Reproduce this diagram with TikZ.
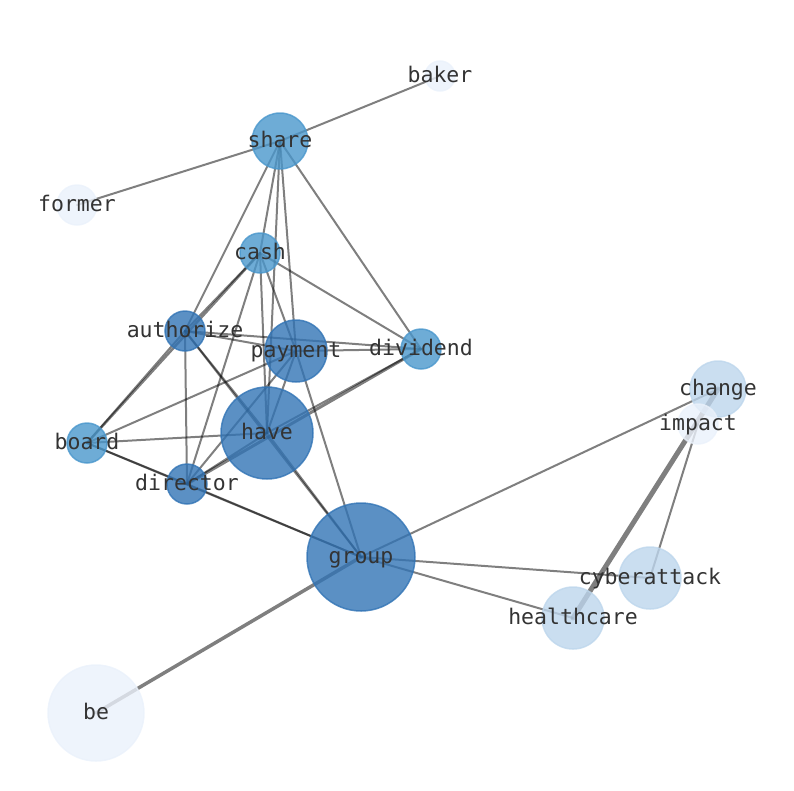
\documentclass[tikz,border=0pt]{standalone}
\usepackage{fontspec}
\newfontfamily\graphfont{DejaVu Sans Mono}
\usetikzlibrary{backgrounds}

\definecolor{nodedeep}{HTML}{3274B5}
\definecolor{nodemid}{HTML}{4A97CC}
\definecolor{nodepale}{HTML}{BDD6EC}
\definecolor{nodefaint}{HTML}{EAF1FB}

\begin{document}
\begin{tikzpicture}[
  x=1pt, y=-1pt,
  vertex/.style={circle, inner sep=0pt, line width=1.5pt, opacity=0.8},
  deep/.style={vertex, fill=nodedeep, draw=nodedeep},
  mid/.style={vertex, fill=nodemid, draw=nodemid},
  pale/.style={vertex, fill=nodepale, draw=nodepale},
  faint/.style={vertex, fill=nodefaint, draw=nodefaint},
  word/.style={font=\graphfont\fontsize{21.5}{26}\selectfont,
    text=black!80, text height=1.25em, text depth=0pt, inner sep=0pt},
  link/.style={draw=black, opacity=0.5, line width=2pt, line cap=round}
]
\useasboundingbox (0,0) rectangle (794,790);

% ---- Vertices ----
\foreach \n/\x/\y/\r/\s in {
  baker/440/76/15/faint, former/77/205/20/faint,
  share/280/141/28/mid, cash/260/253/20/mid,
  authorize/185/331/20/deep, payment/296/351/31/deep,
  dividend/421/349/20/mid, change/718/389/28/pale,
  impact/698/424/20/faint, board/87/443/20/mid,
  have/267/433/46/deep, director/187/484/20/deep,
  group/361/557/54/deep, cyberattack/650/578/31/pale,
  healthcare/573/618/31/pale, be/96/713/48/faint}
  \node[\s, minimum size={2*\r}] (\n) at (\x,\y) {};

% ---- Labels ----
\foreach \n in {baker, former, share, cash, authorize, payment, dividend,
  change, impact, board, have, director, group, cyberattack, healthcare, be}
  \node[word] (\n-txt) at (\n) {\n};

% ---- Links (under the vertices) ----
\begin{scope}[on background layer]
\foreach \a/\b in {
  share/former, share/baker, share/authorize, share/cash, share/have,
  share/payment, share/dividend,
  cash/authorize, cash/director, cash/have, cash/payment, cash/dividend,
  authorize/board, authorize/payment, authorize/dividend,
  authorize/director, authorize/have, authorize/group,
  payment/dividend, payment/have, payment/director, payment/board,
  payment/group, dividend/have,
  have/board, have/director, have/group,
  board/director, board/group, director/group,
  group/change, group/cyberattack, group/healthcare,
  impact/cyberattack}
  \draw[link] (\a.center) -- (\b.center);
\draw[link, line width=2.5pt] (board.center) -- (cash.center);
\draw[link, line width=3pt] (dividend.center) -- (director.center);
\draw[link, line width=3.5pt] (group.center) -- (be.center);
\draw[link, line width=5pt] (change.center) -- (healthcare.center);
\end{scope}

\end{tikzpicture}
\end{document}
